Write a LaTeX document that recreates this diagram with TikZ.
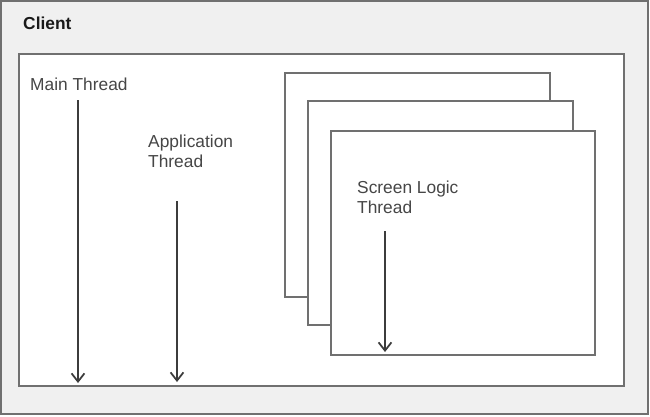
\documentclass[tikz,border=0pt]{standalone}
\usepackage{fontspec}
\setmainfont{Liberation Sans}
\definecolor{panelgray}{RGB}{240,240,240}
\definecolor{framegray}{RGB}{112,112,112}
\definecolor{textgray}{RGB}{70,70,70}
\definecolor{arrowgray}{RGB}{60,60,60}
\usetikzlibrary{arrows.meta,positioning}

\tikzset{
    frame/.style={draw=framegray, line width=1.2pt},
    window/.style={draw=framegray, fill=white, line width=1.2pt},
    label/.style={text=textgray, anchor=base west, align=left, inner sep=0pt,
        font=\fontsize{14.8}{17}\selectfont},
    thread/.style={draw=arrowgray, line width=1.7pt,
        -{Straight Barb[length=7pt, width=11pt, line width=1.5pt]}}
}

\begin{document}
\begin{tikzpicture}[x=0.03cm, y=-0.03cm]
            % client panel
            \draw[frame, fill=panelgray] (1,1) rectangle (648,414);
            \useasboundingbox (0,0) rectangle (650,416);
            \node[label, text=black!90, font=\bfseries\fontsize{14.8}{17}\selectfont] (client) at (23,29) {Client};
            \draw[frame, fill=white] (19,54) rectangle (624,386);

            % stacked screen windows
            \draw[window] (285,73) rectangle (550,297);
            \draw[window] (308,101) rectangle (573,325);
            \draw[window] (331,131) rectangle (595,355);

            % thread labels (base = last line)
            \node[label] (main) at (30,90) {Main Thread};
            \node[label] (app) at (148,167) {Application\\Thread};
            \node[label] (screen) at (357,213) {Screen Logic\\Thread};

            % thread timelines
            \coordinate (mainend) at (78,383);
            \coordinate (append) at (177,382);
            \coordinate (screenend) at (385,352);
            \draw[thread] (78,100) -- (mainend);
            \draw[thread] (177,201) -- (append);
            \draw[thread] (385,231) -- (screenend);
        \end{tikzpicture}
\end{document}
